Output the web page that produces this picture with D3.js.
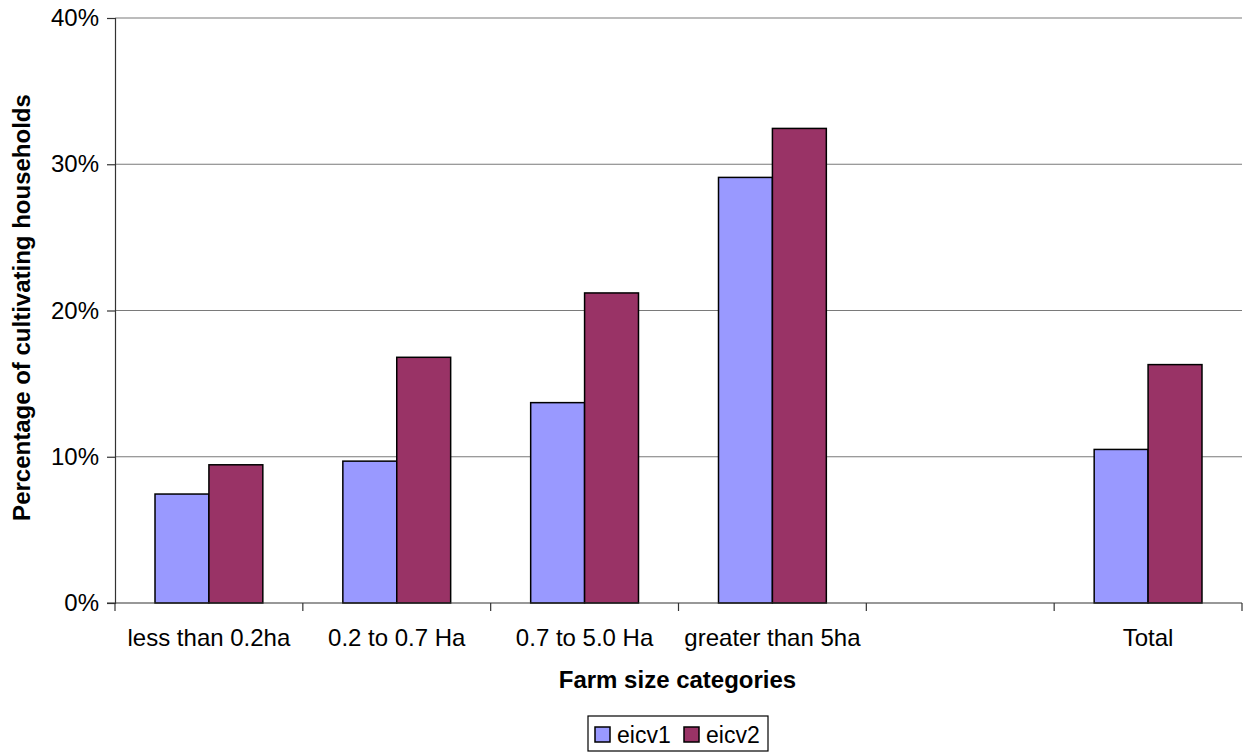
<!DOCTYPE html>
<html>
<head>
<meta charset="utf-8">
<script src="https://cdn.jsdelivr.net/npm/d3@7"></script>
<style>
  html, body { margin: 0; padding: 0; background: #fff; }
  svg { display: block; font-family: "Liberation Sans", Arial, sans-serif; }
</style>
</head>
<body>
<svg id="chart" width="1244" height="753"></svg>
<script>
const categories = ["less than 0.2ha", "0.2 to 0.7 Ha", "0.7 to 5.0 Ha", "greater than 5ha", " ", "Total"];
const seriesNames = ["eicv1", "eicv2"];
const eicv1 = [7.45, 9.7, 13.7, 29.1, null, 10.5];
const eicv2 = [9.45, 16.8, 21.2, 32.45, null, 16.3];
const yTicks = [0, 10, 20, 30, 40];
const colors = ["#9999FF", "#993366"];

(function () {
const svg = d3.select("#chart");
const pLeft = 115, pRight = 1242, pTop = 18, pBottom = 603;
const fs = 24;

const x = d3.scaleBand().domain(categories).range([pLeft, pRight]).paddingInner(0).paddingOuter(0);
const bw = x.bandwidth();
const x1 = d3.scaleBand().domain(seriesNames).range([bw * 0.213, bw * (1 - 0.213)]).padding(0);
const y = d3.scaleLinear().domain([0, 40]).range([pBottom, pTop]);

// gridlines
svg.append("g").selectAll("line").data(yTicks.filter(d => d > 0)).join("line")
  .attr("x1", pLeft).attr("x2", pRight)
  .attr("y1", d => y(d)).attr("y2", d => y(d))
  .attr("stroke", "#7a7a7a").attr("stroke-width", 1.2);

// y axis
const yAxis = d3.axisLeft(y).tickValues(yTicks).tickFormat(d => d + "%").tickSize(8).tickPadding(8);
const gy = svg.append("g").attr("transform", `translate(${pLeft},0)`).call(yAxis);
gy.select(".domain").attr("stroke", "#333").attr("stroke-width", 1.2);
gy.selectAll(".tick line").attr("stroke", "#333").attr("stroke-width", 1.2);
gy.selectAll(".tick text").attr("font-size", fs).attr("fill", "#000")
  .attr("font-family", "'Liberation Sans', Arial, sans-serif");

// bars
const rows = categories.map((c, i) => ({ c, vals: [eicv1[i], eicv2[i]] }));
const groups = svg.append("g").selectAll("g").data(rows).join("g")
  .attr("transform", d => `translate(${x(d.c)},0)`);
groups.selectAll("rect")
  .data(d => d.vals.map((v, j) => ({ s: seriesNames[j], v, j })).filter(e => e.v != null))
  .join("rect")
  .attr("x", d => x1(d.s))
  .attr("width", x1.bandwidth())
  .attr("y", d => y(d.v))
  .attr("height", d => y(0) - y(d.v))
  .attr("fill", d => colors[d.j])
  .attr("stroke", "#000").attr("stroke-width", 1.5);

// x axis
const gx = svg.append("g").attr("transform", `translate(0,${pBottom})`);
gx.append("line").attr("x1", pLeft - 8).attr("x2", pRight).attr("y1", 0).attr("y2", 0)
  .attr("stroke", "#333").attr("stroke-width", 1.2);
const tickXs = categories.map(c => x(c)).concat([pRight]);
gx.selectAll("line.tk").data(tickXs).join("line").attr("class", "tk")
  .attr("x1", d => d).attr("x2", d => d).attr("y1", 0).attr("y2", 8)
  .attr("stroke", "#333").attr("stroke-width", 1.2);
gx.selectAll("text").data(categories).join("text")
  .attr("x", d => x(d) + bw / 2).attr("y", 43)
  .attr("text-anchor", "middle").attr("font-size", fs).attr("fill", "#000")
  .text(d => d.trim());

// axis titles
svg.append("text").attr("x", (pLeft + pRight) / 2 - 1).attr("y", 688)
  .attr("text-anchor", "middle").attr("font-size", fs).attr("font-weight", "bold")
  .text("Farm size categories");
svg.append("text").attr("transform", `translate(30,${(pTop + pBottom) / 2 - 3}) rotate(-90)`)
  .attr("text-anchor", "middle").attr("font-size", fs).attr("font-weight", "bold")
  .text("Percentage of cultivating households");

// legend
const lg = svg.append("g").attr("transform", "translate(588,716)");
lg.append("rect").attr("width", 180).attr("height", 35).attr("fill", "#fff")
  .attr("stroke", "#000").attr("stroke-width", 1.2);
const items = lg.selectAll("g").data(seriesNames).join("g")
  .attr("transform", (d, i) => `translate(${7 + i * 89},11)`);
items.append("rect").attr("width", 15).attr("height", 15)
  .attr("fill", (d, i) => colors[i]).attr("stroke", "#000").attr("stroke-width", 1.5);
items.append("text").attr("x", 22).attr("y", 16).attr("font-size", 23).text(d => d);
})();
</script>
</body>
</html>
